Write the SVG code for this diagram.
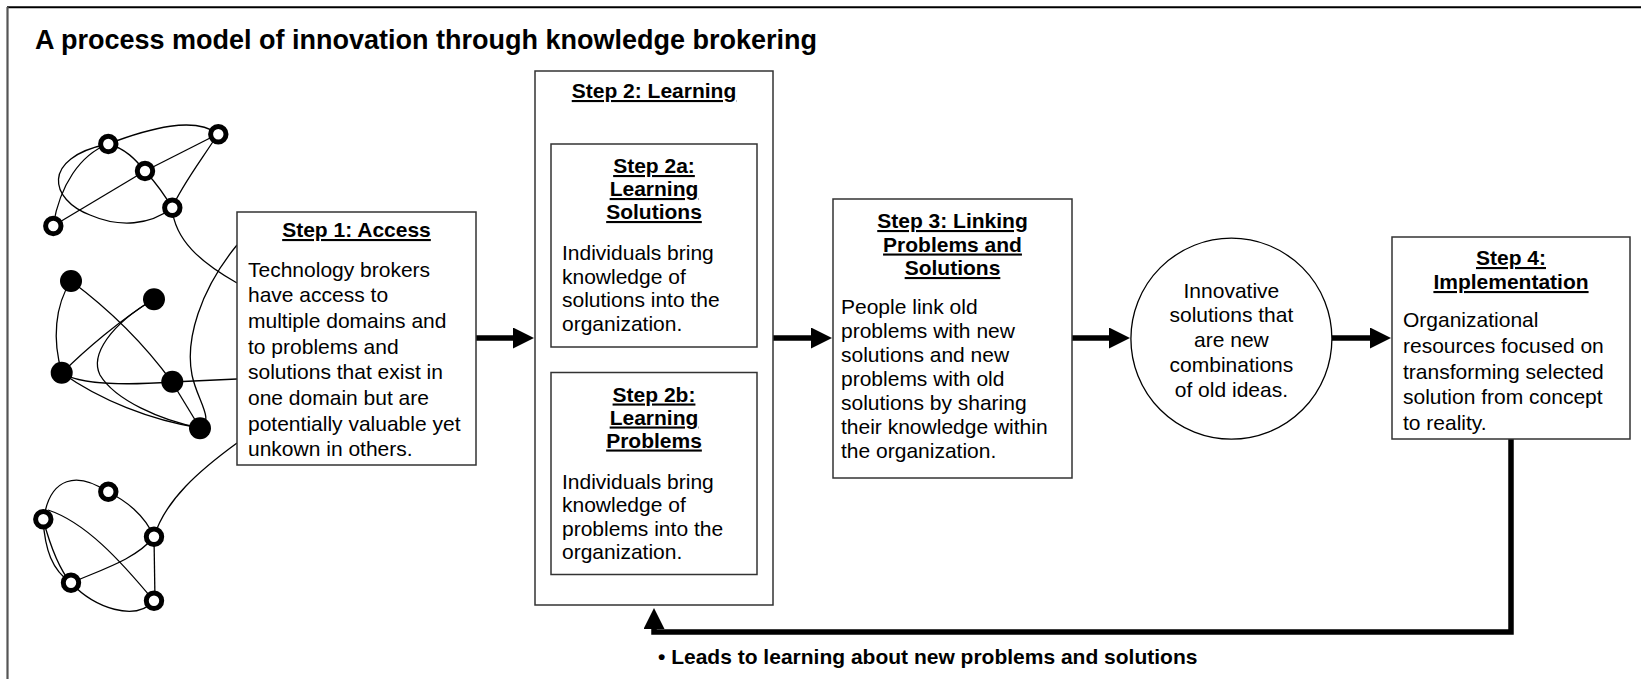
<svg xmlns="http://www.w3.org/2000/svg" width="1641" height="679" viewBox="0 0 1641 679">
<style>
text { font-family: "Liberation Sans", Arial, Helvetica, sans-serif; fill: #000; }
.title { font-size: 27px; font-weight: bold; }
.box { fill: #fff; stroke: #333; stroke-width: 1.5; }
.h { font-size: 21px; font-weight: bold; text-anchor: middle; text-decoration: underline; }
.b { font-size: 21px; }
.c { font-size: 21px; text-anchor: middle; }
.lbl { font-size: 21px; font-weight: bold; }
.edge { fill: none; stroke: #000; stroke-width: 1.3; }
.hollow { fill: #fff; stroke: #000; stroke-width: 5; }
.solid { fill: #000; }
.arrow { fill: none; stroke: #000; stroke-width: 5.5; marker-end: url(#ah); }
</style>
<defs>
<marker id="ah" markerUnits="userSpaceOnUse" markerWidth="21" markerHeight="21" viewBox="0 0 21 21" refX="1" refY="10.5" orient="auto">
<path d="M0,0 L21,10.5 L0,21 z" fill="#000"/>
</marker>
</defs>
<rect width="1641" height="679" fill="#fff"/>
<g id="frame">
<line x1="7" y1="7.3" x2="1641" y2="7.3" stroke="#000" stroke-width="2"/>
<line x1="7.5" y1="7" x2="7.5" y2="679" stroke="#555" stroke-width="2.2"/>
</g>
<text class="title" x="35" y="49">A process model of innovation through knowledge brokering</text>

<g id="network-links">
<!-- top hollow cluster -->
<path class="edge" d="M108,144 C150,128 195,116 218,134"/>
<path class="edge" d="M218,134 L145,171"/>
<path class="edge" d="M218,134 C200,162 182,185 172,208"/>
<path class="edge" d="M145,171 L53,226"/>
<path class="edge" d="M108,144 C125,148 136,160 145,171 C155,182 165,195 172,208"/>
<path class="edge" d="M108,144 C80,155 60,185 53,226"/>
<path class="edge" d="M108,144 C40,158 50,200 90,215 C120,228 150,225 172,208"/>
<path class="edge" d="M172,208 C175,240 200,262 237,283"/>
<!-- links from Step 1 box to clusters -->
<path class="edge" d="M237,245 C200,290 185,340 192,375 C197,400 215,420 200,428"/>
<path class="edge" d="M237,443 C200,470 165,500 154,537"/>
<path class="edge" d="M172,382 L237,379"/>
<!-- black cluster -->
<path class="edge" d="M71,281 C55,305 52,340 62,373"/>
<path class="edge" d="M71,281 C110,310 145,345 172,382"/>
<path class="edge" d="M154,299 C120,320 85,350 62,373"/>
<path class="edge" d="M154,299 C110,325 90,355 100,375 C115,400 160,420 200,428"/>
<path class="edge" d="M62,373 C80,385 130,385 172,382"/>
<path class="edge" d="M62,373 C100,400 150,420 200,428"/>
<path class="edge" d="M172,382 L200,428"/>
<!-- bottom hollow cluster -->
<path class="edge" d="M108,492 C125,500 145,515 154,537"/>
<path class="edge" d="M45,512 C52,480 75,470 108,492"/>
<path class="edge" d="M48,510 C85,522 120,560 154,601"/>
<path class="edge" d="M43,519 C45,550 52,570 71,583"/>
<path class="edge" d="M43,519 C50,545 58,568 71,583"/>
<path class="edge" d="M71,583 C100,570 135,560 154,537"/>
<path class="edge" d="M154,537 L155,601"/>
<path class="edge" d="M71,583 C95,608 135,622 154,601"/>
</g>

<g id="network-nodes">
<circle class="hollow" cx="108.3" cy="144" r="7.7"/>
<circle class="hollow" cx="218.3" cy="134.3" r="7.7"/>
<circle class="hollow" cx="145" cy="171" r="7.7"/>
<circle class="hollow" cx="172.3" cy="207.7" r="7.7"/>
<circle class="hollow" cx="53.3" cy="226" r="7.7"/>
<circle class="solid" cx="71" cy="281" r="11"/>
<circle class="solid" cx="154" cy="299.3" r="11"/>
<circle class="solid" cx="61.7" cy="372.7" r="11"/>
<circle class="solid" cx="172.3" cy="381.7" r="11"/>
<circle class="solid" cx="200" cy="428.3" r="11"/>
<circle class="hollow" cx="108.3" cy="491.7" r="7.7"/>
<circle class="hollow" cx="43.3" cy="519.3" r="7.7"/>
<circle class="hollow" cx="154" cy="536.7" r="7.7"/>
<circle class="hollow" cx="71" cy="582.7" r="7.7"/>
<circle class="hollow" cx="154" cy="600.7" r="7.7"/>
</g>

<g id="connectors">
<line class="arrow" x1="476" y1="338" x2="514" y2="338"/>
<line class="arrow" x1="773" y1="338" x2="812" y2="338"/>
<line class="arrow" x1="1072" y1="338" x2="1110" y2="338"/>
<line class="arrow" x1="1332" y1="338" x2="1371" y2="338"/>
<path class="arrow" d="M1511,439 V632 H654 V628"/>
<text class="lbl" x="658" y="664">• Leads to learning about new problems and solutions</text>
</g>

<g id="step1">
<rect class="box" x="237" y="212" width="239" height="253"/>
<text class="h" x="356.5" y="237">Step 1: Access</text>
<text class="b" x="248" y="276.5">Technology brokers</text>
<text class="b" x="248" y="302.2">have access to</text>
<text class="b" x="248" y="327.9">multiple domains and</text>
<text class="b" x="248" y="353.6">to problems and</text>
<text class="b" x="248" y="379.3">solutions that exist in</text>
<text class="b" x="248" y="405">one domain but are</text>
<text class="b" x="248" y="430.7">potentially valuable yet</text>
<text class="b" x="248" y="456.4">unkown in others.</text>
</g>

<g id="step2">
<rect class="box" x="535" y="71" width="238" height="534"/>
<text class="h" x="654" y="98">Step 2: Learning</text>
</g>

<g id="step2a">
<rect class="box" x="551" y="144" width="206" height="203"/>
<text class="h" x="654" y="173">Step 2a:</text>
<text class="h" x="654" y="196">Learning</text>
<text class="h" x="654" y="219">Solutions</text>
<text class="b" x="562" y="260">Individuals bring</text>
<text class="b" x="562" y="283.5">knowledge of</text>
<text class="b" x="562" y="307">solutions into the</text>
<text class="b" x="562" y="330.5">organization.</text>
</g>

<g id="step2b">
<rect class="box" x="551" y="372.5" width="206" height="202"/>
<text class="h" x="654" y="401.5">Step 2b:</text>
<text class="h" x="654" y="424.5">Learning</text>
<text class="h" x="654" y="447.5">Problems</text>
<text class="b" x="562" y="488.5">Individuals bring</text>
<text class="b" x="562" y="512">knowledge of</text>
<text class="b" x="562" y="535.5">problems into the</text>
<text class="b" x="562" y="559">organization.</text>
</g>

<g id="step3">
<rect class="box" x="833" y="199" width="239" height="279"/>
<text class="h" x="952.5" y="228">Step 3: Linking</text>
<text class="h" x="952.5" y="251.5">Problems and</text>
<text class="h" x="952.5" y="275">Solutions</text>
<text class="b" x="841" y="314">People link old</text>
<text class="b" x="841" y="338">problems with new</text>
<text class="b" x="841" y="362">solutions and new</text>
<text class="b" x="841" y="386">problems with old</text>
<text class="b" x="841" y="410">solutions by sharing</text>
<text class="b" x="841" y="434">their knowledge within</text>
<text class="b" x="841" y="458">the organization.</text>
</g>

<g id="innovation">
<circle cx="1231.4" cy="338.7" r="100.5" fill="#fff" stroke="#000" stroke-width="1.3"/>
<text class="c" x="1231.4" y="297.5">Innovative</text>
<text class="c" x="1231.4" y="322.3">solutions that</text>
<text class="c" x="1231.4" y="347">are new</text>
<text class="c" x="1231.4" y="371.8">combinations</text>
<text class="c" x="1231.4" y="396.5">of old ideas.</text>
</g>

<g id="step4">
<rect class="box" x="1392" y="237" width="238" height="202"/>
<text class="h" x="1511" y="265">Step 4:</text>
<text class="h" x="1511" y="289">Implementation</text>
<text class="b" x="1403" y="327">Organizational</text>
<text class="b" x="1403" y="352.8">resources focused on</text>
<text class="b" x="1403" y="378.5">transforming selected</text>
<text class="b" x="1403" y="404.3">solution from concept</text>
<text class="b" x="1403" y="430">to reality.</text>
</g>
</svg>
